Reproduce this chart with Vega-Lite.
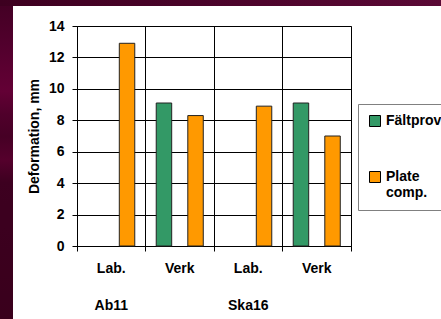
{
  "$schema": "https://vega.github.io/schema/vega-lite/v6.json",
  "width": 274,
  "height": 220,
  "autosize": "none",
  "padding": {"left": 77, "top": 26, "right": 90, "bottom": 73},
  "background": "#ffffff",
  "config": {
    "font": "Liberation Sans",
    "view": {"stroke": "#808080", "strokeWidth": 1}
  },
  "data": {
    "values": [
      {"grp": "Ab11|Lab.", "series": "Plate comp.", "value": 12.9},
      {"grp": "Ab11|Verk", "series": "Fältprov", "value": 9.1},
      {"grp": "Ab11|Verk", "series": "Plate comp.", "value": 8.3},
      {"grp": "Ska16|Lab.", "series": "Plate comp.", "value": 8.9},
      {"grp": "Ska16|Verk", "series": "Fältprov", "value": 9.1},
      {"grp": "Ska16|Verk", "series": "Plate comp.", "value": 7.0}
    ]
  },
  "encoding": {
    "x": {
      "field": "grp",
      "type": "nominal",
      "sort": ["Ab11|Lab.", "Ab11|Verk", "Ska16|Lab.", "Ska16|Verk"],
      "scale": {"paddingInner": 0, "paddingOuter": 0},
      "axis": {
        "title": null,
        "labelAngle": 0,
        "bandPosition": 1,
        "tickExtra": true,
        "grid": true,
        "gridColor": "#000000",
        "gridWidth": 1,
        "gridOpacity": 1,
        "domainColor": "#000000",
        "tickColor": "#000000",
        "tickSize": 5,
        "labelPadding": 10,
        "labelFont": "Liberation Sans",
        "labelFontWeight": "bold",
        "labelFontSize": 14,
        "labelColor": "#000000",
        "labelBaseline": "top",
        "labelLineHeight": 37.5,
        "labelExpr": "datum.value == 'Ab11|Lab.' ? ['Lab.', 'Ab11'] : datum.value == 'Ska16|Lab.' ? ['Lab.', 'Ska16'] : (datum.value == 'Ab11|Verk' || datum.value == 'Ska16|Verk') ? 'Verk' : ''"
      }
    },
    "xOffset": {
      "field": "series",
      "type": "nominal",
      "sort": ["Fältprov", "Plate comp."],
      "scale": {"domain": ["Fältprov", "Plate comp."], "paddingInner": 0.51, "paddingOuter": 0.34}
    },
    "y": {
      "field": "value",
      "type": "quantitative",
      "scale": {"domain": [0, 14], "nice": false},
      "axis": {
        "title": "Deformation, mm",
        "titleFont": "Liberation Sans",
        "titleFontWeight": "bold",
        "titleFontSize": 14,
        "titleColor": "#000000",
        "titlePadding": 7,
        "values": [0, 2, 4, 6, 8, 10, 12, 14],
        "grid": true,
        "gridColor": "#000000",
        "gridWidth": 1,
        "gridOpacity": 1,
        "domainColor": "#000000",
        "tickColor": "#000000",
        "tickSize": 5,
        "labelPadding": 8,
        "labelFont": "Liberation Sans",
        "labelFontWeight": "bold",
        "labelFontSize": 14,
        "labelColor": "#000000"
      }
    }
  },
  "layer": [
    {
      "mark": {"type": "bar", "stroke": "#222222", "strokeWidth": 1},
      "encoding": {
        "color": {
          "field": "series",
          "type": "nominal",
          "scale": {"domain": ["Fältprov", "Plate comp."], "range": ["#339966", "#ff9900"]},
          "legend": {
            "title": null,
            "orient": "none",
            "legendX": 281,
            "legendY": 78,
            "fillColor": "#ffffff",
            "strokeColor": "#808080",
            "padding": 10,
            "symbolType": "square",
            "symbolSize": 121,
            "symbolStrokeColor": "#000000",
            "symbolStrokeWidth": 1,
            "symbolOpacity": 1,
            "labelFont": "Liberation Sans",
            "labelFontWeight": "bold",
            "labelFontSize": 14,
            "labelColor": "#000000",
            "labelOffset": 4,
            "rowPadding": 40,
            "labelExpr": "datum.label == 'Plate comp.' ? ['Plate', 'comp.'] : datum.label"
          }
        }
      }
    },
    {
      "mark": {"type": "point", "opacity": 0, "filled": true},
      "encoding": {
        "fill": {
          "field": "value",
          "type": "quantitative",
          "scale": {"domain": [0, 6.1, 7.2, 8.3, 9.8, 14], "range": ["#3a001c", "#3d0020", "#5a002f", "#3f0021", "#650036", "#420024"]},
          "legend": {
            "title": null,
            "orient": "none",
            "direction": "vertical",
            "legendX": -77,
            "legendY": -26,
            "padding": 0,
            "gradientLength": 319,
            "gradientThickness": 13,
            "gradientStrokeWidth": 0,
            "labelOpacity": 0,
            "labelExpr": "''"
          }
        }
      }
    },
    {
      "mark": {"type": "point", "opacity": 0},
      "encoding": {
        "stroke": {
          "field": "value",
          "type": "quantitative",
          "scale": {"domain": [0, 15], "range": ["#3d0020", "#5a0935"]},
          "legend": {
            "title": null,
            "orient": "none",
            "direction": "horizontal",
            "legendX": -77,
            "legendY": -26,
            "padding": 0,
            "gradientLength": 441,
            "gradientThickness": 6,
            "gradientStrokeWidth": 0,
            "labelOpacity": 0,
            "labelExpr": "''"
          }
        }
      }
    }
  ]
}
